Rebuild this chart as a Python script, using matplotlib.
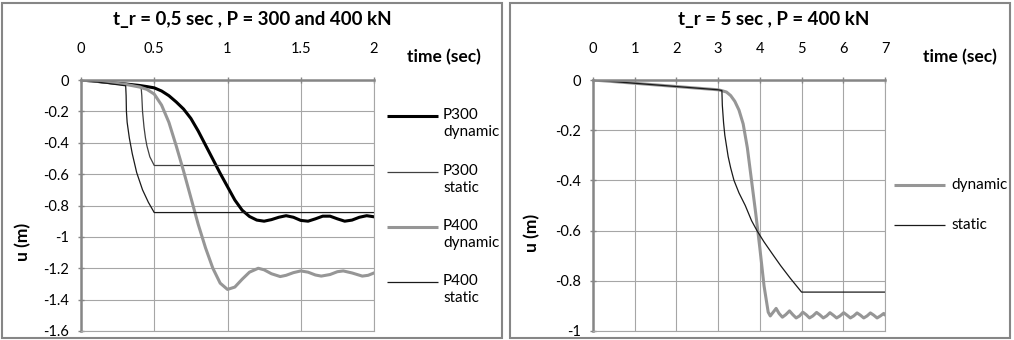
import matplotlib
matplotlib.use('Agg')
import matplotlib.pyplot as plt
from matplotlib.patches import Rectangle

plt.rcParams['font.family'] = ['Lato', 'DejaVu Sans']

# left chart: t_r = 0.5 sec, P = 300 and 400 kN
t_p300_dyn = [0, 0.1, 0.2, 0.3, 0.4, 0.45, 0.5, 0.55, 0.6, 0.65, 0.7, 0.75, 0.8, 0.85, 0.9, 0.95,
              1.0, 1.05, 1.1, 1.15, 1.2, 1.25, 1.3, 1.35, 1.4, 1.45, 1.5, 1.55, 1.6, 1.65, 1.7,
              1.75, 1.8, 1.85, 1.9, 1.95, 2.0]
u_p300_dyn = [0, -0.008, -0.017, -0.025, -0.035, -0.042, -0.05, -0.07, -0.10, -0.14, -0.185, -0.245,
              -0.325, -0.415, -0.505, -0.595, -0.68, -0.765, -0.83, -0.87, -0.893, -0.9, -0.89, -0.875,
              -0.865, -0.875, -0.895, -0.9, -0.885, -0.868, -0.868, -0.885, -0.9, -0.893, -0.875,
              -0.865, -0.872]

t_p300_sta = [0, 0.1, 0.2, 0.3, 0.41, 0.415, 0.42, 0.43, 0.44, 0.45, 0.47, 0.5, 2.0]
u_p300_sta = [0, -0.01, -0.02, -0.03, -0.04, -0.1, -0.2, -0.3, -0.37, -0.42, -0.49, -0.545, -0.545]

t_p400_dyn = [0, 0.1, 0.2, 0.3, 0.4, 0.45, 0.5, 0.55, 0.6, 0.65, 0.7, 0.75, 0.8, 0.85, 0.9, 0.95,
              1.0, 1.05, 1.1, 1.15, 1.21, 1.25, 1.3, 1.36, 1.4, 1.45, 1.5, 1.55, 1.6, 1.64, 1.7,
              1.75, 1.79, 1.85, 1.92, 1.96, 2.0]
u_p400_dyn = [0, -0.008, -0.017, -0.027, -0.045, -0.06, -0.09, -0.16, -0.27, -0.42, -0.58, -0.75,
              -0.92, -1.07, -1.2, -1.295, -1.335, -1.32, -1.27, -1.225, -1.2, -1.21, -1.235, -1.253,
              -1.245, -1.228, -1.217, -1.225, -1.243, -1.25, -1.24, -1.222, -1.217, -1.23, -1.25,
              -1.245, -1.23]

t_p400_sta = [0, 0.1, 0.2, 0.305, 0.308, 0.31, 0.315, 0.33, 0.35, 0.38, 0.42, 0.46, 0.5, 2.0]
u_p400_sta = [0, -0.012, -0.024, -0.037, -0.1, -0.2, -0.27, -0.37, -0.47, -0.59, -0.70, -0.78,
              -0.845, -0.845]

# right chart: t_r = 5 sec, P = 400 kN
t_dyn = [0, 1, 2, 3, 3.1, 3.2, 3.3, 3.4, 3.5, 3.6, 3.7, 3.8, 3.9, 4.0, 4.1, 4.2, 4.25, 4.32,
         4.39, 4.46, 4.54, 4.62, 4.71, 4.79, 4.87, 4.95, 5.03, 5.11, 5.19, 5.27, 5.36, 5.44,
         5.52, 5.60, 5.68, 5.76, 5.84, 5.92, 6.01, 6.09, 6.17, 6.25, 6.33, 6.41, 6.49, 6.57,
         6.65, 6.73, 6.81, 6.89, 6.97, 7.0]
u_dyn = [0, -0.013, -0.026, -0.039, -0.043, -0.048, -0.062, -0.085, -0.12, -0.175, -0.27, -0.4,
         -0.53, -0.67, -0.82, -0.925, -0.94, -0.925, -0.91, -0.93, -0.945, -0.935, -0.92, -0.935,
         -0.948, -0.94, -0.925, -0.935, -0.948, -0.94, -0.926, -0.936, -0.948, -0.94, -0.927,
         -0.937, -0.948, -0.94, -0.927, -0.937, -0.948, -0.94, -0.928, -0.937, -0.948, -0.94,
         -0.928, -0.937, -0.948, -0.94, -0.93, -0.935]

t_sta = [0, 1, 2, 3, 3.09, 3.1, 3.13, 3.16, 3.24, 3.3, 3.38, 3.5, 3.65, 3.8, 3.93, 4.1, 4.33,
         4.5, 4.73, 5.0, 7.0]
u_sta = [0, -0.013, -0.026, -0.039, -0.042, -0.1, -0.17, -0.22, -0.305, -0.35, -0.4, -0.45,
         -0.5, -0.56, -0.6, -0.645, -0.7, -0.74, -0.79, -0.845, -0.845]

left_xticks = [0, 0.5, 1, 1.5, 2]
left_xlabels = ['0', '0.5', '1', '1.5', '2']
left_yticks = [0, -0.2, -0.4, -0.6, -0.8, -1, -1.2, -1.4, -1.6]
left_ylabels = ['0', '-0.2', '-0.4', '-0.6', '-0.8', '-1', '-1.2', '-1.4', '-1.6']
right_xticks = [0, 1, 2, 3, 4, 5, 6, 7]
right_yticks = [0, -0.2, -0.4, -0.6, -0.8, -1]
right_ylabels = ['0', '-0.2', '-0.4', '-0.6', '-0.8', '-1']

W, H = 1014, 340
AXIS_COLOR = '#868686'
GRID_COLOR = '#a6a6a6'
BLACK = '#000000'
GRAY = '#969696'
DARK = '#1a1a1a'
TICK_FS = 10.5
LEG_FS = 11
LABEL_FS = 12.5
TITLE_FS = 13.5

fig = plt.figure(figsize=(W / 100, H / 100), dpi=100)


def px_axes(x0, x1, y_top, y_bot):
    return fig.add_axes([x0 / W, (H - y_bot) / H, (x1 - x0) / W, (y_bot - y_top) / H])


def style_axes(ax, xticks, xlabels, yticks, ylabels, xlim, ylim):
    ax.set_xlim(*xlim)
    ax.set_ylim(*ylim)
    ax.xaxis.tick_top()
    ax.set_xticks(xticks)
    ax.set_xticklabels(xlabels)
    ax.set_yticks(yticks)
    ax.set_yticklabels(ylabels)
    ax.grid(True, color=GRID_COLOR, linewidth=0.8)
    ax.set_axisbelow(True)
    for side in ['right', 'bottom']:
        ax.spines[side].set_color(GRID_COLOR)
        ax.spines[side].set_linewidth(0.8)
    for side in ['top', 'left']:
        ax.spines[side].set_color(AXIS_COLOR)
        ax.spines[side].set_linewidth(1.8)
    ax.tick_params(axis='x', direction='inout', length=5, width=1, color=AXIS_COLOR,
                   pad=15, labelsize=TICK_FS, labelcolor='#000000')
    ax.tick_params(axis='y', direction='inout', length=5, width=1, color=AXIS_COLOR,
                   pad=6, labelsize=TICK_FS, labelcolor='#000000')


def legend_line(ax, x0, x1, y, color, lw):
    ax.plot([x0, x1], [y, y], color=color, linewidth=lw, transform=ax.transAxes, clip_on=False,
            solid_capstyle='butt')


# panel frames
fig.add_artist(Rectangle((2 / W, 2 / H), 500 / W, 335 / H, transform=fig.transFigure,
                         fill=False, edgecolor=AXIS_COLOR, linewidth=1.5))
fig.add_artist(Rectangle((510 / W, 2 / H), 500 / W, 335 / H, transform=fig.transFigure,
                         fill=False, edgecolor=AXIS_COLOR, linewidth=1.5))

# left chart
ax1 = px_axes(81, 374, 80, 331)
style_axes(ax1, left_xticks, left_xlabels, left_yticks, left_ylabels, (0, 2), (-1.6, 0))
ax1.plot(t_p300_dyn, u_p300_dyn, color=BLACK, linewidth=2.2)
ax1.plot(t_p300_sta, u_p300_sta, color='#404040', linewidth=0.9)
ax1.plot(t_p400_dyn, u_p400_dyn, color=GRAY, linewidth=2.2)
ax1.plot(t_p400_sta, u_p400_sta, color=DARK, linewidth=0.9)

lx0, lx1, ltx = (387 - 81) / 293, (438 - 81) / 293, (443 - 81) / 293
for y_px, txt, col, lw in [(116, 'P300\ndynamic', BLACK, 2.2), (172, 'P300\nstatic', '#404040', 0.9),
                           (227, 'P400\ndynamic', GRAY, 2.2), (282, 'P400\nstatic', DARK, 0.9)]:
    legend_line(ax1, lx0, lx1, (331 - y_px) / 251, col, lw)
    ax1.text(ltx, (331 - y_px + 8) / 251, txt, transform=ax1.transAxes, fontsize=LEG_FS,
             va='top', ha='left', linespacing=1.25)

fig.text(252 / W, 1 - 20 / H, 't_r = 0,5 sec , P = 300 and 400 kN', fontsize=TITLE_FS,
         fontweight='bold', ha='center', va='center')
fig.text(444 / W, 1 - 57 / H, 'time (sec)', fontsize=LABEL_FS, fontweight='bold',
         ha='center', va='center')
fig.text(23 / W, 1 - 242 / H, 'u (m)', fontsize=LABEL_FS, fontweight='bold', rotation=90,
         ha='center', va='center')

# right chart
ax2 = px_axes(593, 885, 80, 331)
style_axes(ax2, right_xticks, [str(v) for v in right_xticks], right_yticks, right_ylabels,
           (0, 7), (-1, 0))
ax2.plot(t_dyn, u_dyn, color=GRAY, linewidth=2.2)
ax2.plot(t_sta, u_sta, color=DARK, linewidth=0.9)

rx0, rx1, rtx = (894 - 593) / 292, (945 - 593) / 292, (951 - 593) / 292
for y_px, txt, col, lw in [(185, 'dynamic', GRAY, 2.2), (225, 'static', DARK, 0.9)]:
    legend_line(ax2, rx0, rx1, (331 - y_px) / 251, col, lw)
    ax2.text(rtx, (331 - y_px) / 251, txt, transform=ax2.transAxes, fontsize=LEG_FS,
             va='center', ha='left')

fig.text(774 / W, 1 - 20 / H, 't_r = 5 sec , P = 400 kN', fontsize=TITLE_FS,
         fontweight='bold', ha='center', va='center')
fig.text(960 / W, 1 - 57 / H, 'time (sec)', fontsize=LABEL_FS, fontweight='bold',
         ha='center', va='center')
fig.text(532 / W, 1 - 233 / H, 'u (m)', fontsize=LABEL_FS, fontweight='bold', rotation=90,
         ha='center', va='center')

fig.savefig('out.png', dpi=100)
